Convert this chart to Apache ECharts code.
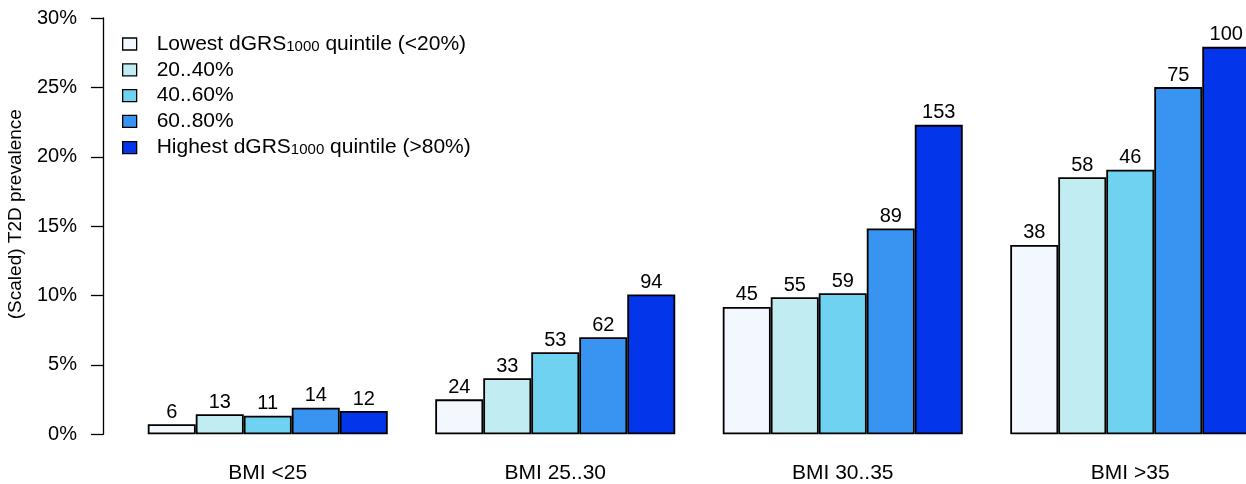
<!DOCTYPE html>
<html>
<head>
<meta charset="utf-8">
<script src="https://cdn.jsdelivr.net/npm/echarts@6/dist/echarts.min.js"></script>
<style>
  html, body { margin: 0; padding: 0; background: #fff; }
  #chart { width: 1246px; height: 484px; }
</style>
</head>
<body>
<div id="chart"></div>
<script>
// BMI classes along the x axis
const bmiGroups = ['BMI <25', 'BMI 25..30', 'BMI 30..35', 'BMI >35'];

// dGRS1000 quintile names (legend order)
const quintileNames = [
  'Lowest dGRS1000 quintile (<20%)',
  '20..40%',
  '40..60%',
  '60..80%',
  'Highest dGRS1000 quintile (>80%)'
];

// Scaled T2D prevalence (%) per quintile, one value per BMI class
const prevQ1 = [0.72, 2.52, 9.18, 13.65];
const prevQ2 = [1.44, 4.04, 9.88, 18.53];
const prevQ3 = [1.34, 5.92, 10.17, 19.06];
const prevQ4 = [1.92, 7.00, 14.83, 25.02];
const prevQ5 = [1.68, 10.07, 22.30, 27.92];

// Case counts printed above each bar
const countQ1 = [6, 24, 45, 38];
const countQ2 = [13, 33, 55, 58];
const countQ3 = [11, 53, 59, 46];
const countQ4 = [14, 62, 89, 75];
const countQ5 = [12, 94, 153, 100];

// Y axis ticks
const yTicks = [0, 5, 10, 15, 20, 25, 30];

const quintileColors = ['#F3F8FE', '#C0ECF2', '#6FD2F1', '#3894F0', '#0336EA'];

const prevalence = [prevQ1, prevQ2, prevQ3, prevQ4, prevQ5];
const counts = [countQ1, countQ2, countQ3, countQ4, countQ5];

const FONT = "'Liberation Sans', Arial, sans-serif";

const chart = echarts.init(document.getElementById('chart'), null, { renderer: 'canvas' });

const series = quintileNames.map((name, i) => ({
  name: name,
  type: 'bar',
  barWidth: 48,
  barGap: '0%',
  data: prevalence[i].map((v, j) => ({ value: v, count: counts[i][j] })),
  itemStyle: {
    color: quintileColors[i],
    borderColor: '#000',
    borderWidth: 1.8
  },
  label: {
    show: true,
    position: 'top',
    distance: 2,
    color: '#000',
    fontFamily: FONT,
    fontSize: 20,
    formatter: p => String(p.data.count)
  },
  emphasis: { disabled: true },
  animation: false
}));

chart.setOption({
  animation: false,
  backgroundColor: '#fff',
  textStyle: { fontFamily: FONT, color: '#000' },
  // the last group runs past the right edge of the canvas
  grid: {
    left: 124, top: 18, width: 1150, height: 416.3,
    containLabel: false,
    outerBoundsMode: 'none'
  },
  legend: {
    orient: 'vertical',
    left: 117,
    top: 28,
    itemWidth: 14,
    itemHeight: 12,
    itemGap: 4.8,
    selectedMode: false,
    icon: 'rect',
    itemStyle: { borderColor: '#000', borderWidth: 1.3 },
    data: quintileNames,
    formatter: name => {
      if (name.indexOf('1000') >= 0) {
        const parts = name.split('1000');
        return '{n|' + parts[0] + '}{s|1000}{n|' + parts[1] + '}';
      }
      return '{n|' + name + '}';
    },
    textStyle: {
      padding: [0, 0, 0, 15],
      rich: {
        n: { fontFamily: FONT, fontSize: 21, color: '#000', lineHeight: 20, verticalAlign: 'middle' },
        s: { fontFamily: FONT, fontSize: 15, color: '#000', lineHeight: 20, verticalAlign: 'bottom', padding: [6, 0, 0, 0] }
      }
    }
  },
  xAxis: {
    type: 'category',
    data: bmiGroups,
    axisLine: { show: false },
    axisTick: { show: false },
    axisLabel: { color: '#000', fontFamily: FONT, fontSize: 21, margin: 28 },
    splitLine: { show: false }
  },
  yAxis: {
    type: 'value',
    min: yTicks[0],
    max: yTicks[yTicks.length - 1],
    interval: yTicks[1] - yTicks[0],
    offset: 21,
    name: '(Scaled) T2D prevalence',
    nameLocation: 'middle',
    nameRotate: 90,
    nameGap: 78,
    nameTextStyle: { color: '#000', fontFamily: FONT, fontSize: 19, padding: [0, 0, 0, 24] },
    axisLine: { show: true, lineStyle: { color: '#000', width: 1.3 } },
    axisTick: { show: true, inside: false, length: 12, lineStyle: { color: '#000', width: 1.3 } },
    axisLabel: { color: '#000', fontFamily: FONT, fontSize: 20, margin: 26, formatter: '{value}%' },
    splitLine: { show: false }
  },
  series: series
});
</script>
</body>
</html>
